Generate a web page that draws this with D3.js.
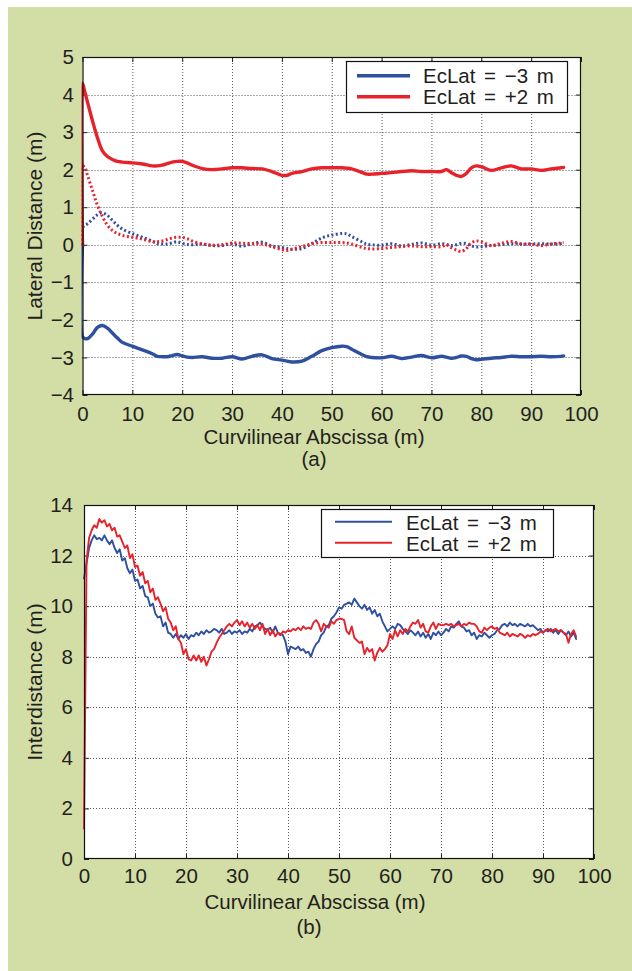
<!DOCTYPE html>
<html>
<head>
<meta charset="utf-8">
<script src="https://cdn.jsdelivr.net/npm/d3@7"></script>
<style>
  body { margin: 0; padding: 0; background: #ffffff; }
  svg { display: block; }
  text { font-family: "Liberation Sans", Arial, Helvetica, sans-serif; fill: #231f20; }
</style>
</head>
<body>
<svg id="fig" width="632" height="971"></svg>
<script>
// ---------------- DATA ----------------
// (a) Lateral distance vs curvilinear abscissa
const latX = [0, 0, 0.5, 1, 2, 3, 4, 5, 6, 7, 8, 10, 12, 14, 15, 16, 17, 18, 19, 20, 21, 22, 24, 26, 28, 30, 32, 34, 36, 38, 40, 41, 42, 44, 46, 48, 50, 52, 53, 54, 56, 57, 58, 60, 62, 64, 66, 68, 70, 72, 73, 74, 75, 76, 77, 78, 79, 80, 82, 84, 86, 88, 90, 92, 94, 96, 96.5];
const latBlueSolid = [0, -2.45, -2.5, -2.5, -2.38, -2.2, -2.15, -2.22, -2.35, -2.48, -2.6, -2.7, -2.8, -2.9, -2.97, -2.98, -2.98, -2.95, -2.92, -2.96, -2.99, -3.0, -2.98, -3.02, -3.02, -2.98, -3.04, -2.97, -2.93, -3.03, -3.07, -3.1, -3.12, -3.1, -2.97, -2.82, -2.74, -2.7, -2.71, -2.78, -2.92, -2.98, -3.0, -3.01, -2.97, -3.03, -2.99, -2.95, -3.01, -2.97, -2.99, -3.02, -3.0, -2.96, -2.97, -3.03, -3.06, -3.05, -3.02, -3.0, -2.97, -2.98, -2.98, -2.97, -2.98, -2.97, -2.96];
const latRedSolid = [0, 4.3, 4.05, 3.8, 3.3, 2.85, 2.5, 2.35, 2.27, 2.22, 2.2, 2.18, 2.15, 2.1, 2.1, 2.12, 2.16, 2.2, 2.22, 2.22, 2.18, 2.12, 2.03, 2.0, 2.02, 2.05, 2.05, 2.03, 2.02, 1.95, 1.85, 1.85, 1.9, 1.95, 2.02, 2.05, 2.05, 2.05, 2.04, 2.02, 1.93, 1.88, 1.88, 1.9, 1.92, 1.95, 1.97, 1.95, 1.95, 1.95, 2.0, 1.92, 1.85, 1.82, 1.9, 2.05, 2.1, 2.08, 1.98, 2.05, 2.1, 2.02, 2.02, 1.98, 2.02, 2.05, 2.06];
const latBlueDotted = [0, 0.45, 0.52, 0.56, 0.68, 0.8, 0.85, 0.78, 0.65, 0.52, 0.42, 0.3, 0.2, 0.1, 0.03, 0.02, 0.02, 0.05, 0.08, 0.04, 0.01, 0.0, 0.02, -0.02, -0.02, 0.02, -0.04, 0.03, 0.07, -0.03, -0.07, -0.1, -0.12, -0.1, 0.03, 0.18, 0.26, 0.3, 0.29, 0.22, 0.08, 0.02, 0.0, -0.01, 0.03, -0.03, 0.01, 0.05, -0.01, 0.03, 0.01, -0.02, 0.0, 0.04, 0.03, -0.03, -0.06, -0.05, -0.02, 0.0, 0.03, 0.02, 0.02, 0.03, 0.02, 0.03, 0.04];
const latRedDotted = [0, 2.1, 2.05, 1.85, 1.45, 1.05, 0.75, 0.52, 0.38, 0.3, 0.25, 0.2, 0.15, 0.08, 0.08, 0.1, 0.14, 0.18, 0.2, 0.2, 0.16, 0.1, 0.02, -0.01, 0.0, 0.05, 0.04, 0.03, 0.02, -0.05, -0.13, -0.15, -0.12, -0.05, 0.03, 0.06, 0.06, 0.06, 0.05, 0.02, -0.07, -0.1, -0.11, -0.1, -0.07, -0.05, -0.03, -0.05, -0.05, -0.05, 0.0, -0.08, -0.14, -0.18, -0.1, 0.05, 0.1, 0.08, -0.02, 0.04, 0.09, 0.02, 0.02, -0.02, 0.02, 0.05, 0.06];

// (b) Interdistance, sampled every 0.5 m from 0 m
const interStart = 0, interStep = 0.5;
const interBlue = [11.1, 11.7, 12.3, 12.6, 12.8, 12.65, 12.7, 12.6, 12.8, 12.6, 12.45, 12.6, 12.3, 12.1, 12.25, 11.8, 11.9, 11.5, 11.3, 11.45,
  11.0, 11.05, 10.7, 10.8, 10.4, 10.35, 10.0, 10.1, 9.7, 9.55, 9.6, 9.2, 9.35, 8.95, 8.9, 8.75, 8.9, 8.7, 8.85, 8.75,
  8.9, 8.7, 8.85, 8.8, 8.95, 8.85, 9.0, 8.9, 9.05, 8.95, 9.0, 9.1, 9.05, 8.95, 9.1, 8.9, 8.95, 9.05, 8.9, 9.0,
  8.95, 9.05, 8.9, 9.0, 8.95, 9.1, 9.0, 9.2, 9.25, 9.35, 9.2, 9.1, 9.05, 9.15, 8.95, 9.2, 8.95, 8.9, 8.85, 8.6,
  8.1, 8.4, 8.35, 8.3, 8.4, 8.25, 8.3, 8.15, 8.2, 8.0, 8.3, 8.5, 8.6, 8.85, 8.95, 9.2, 9.25, 9.5, 9.6, 9.75,
  9.95, 9.9, 10.05, 10.1, 10.15, 10.05, 10.3, 10.15, 10.0, 9.9, 10.05, 9.85, 9.95, 9.7, 9.85, 9.6, 9.7, 9.4, 9.2, 9.0,
  9.1, 9.2, 9.1, 9.3, 9.25, 9.1, 9.0, 8.9, 9.05, 8.95, 8.85, 9.0, 8.8, 8.95, 8.75, 8.9, 8.7, 8.95, 8.85, 9.0,
  8.85, 8.95, 9.1, 9.0, 9.2, 9.15, 9.3, 9.4, 9.2, 9.15, 9.0, 9.05, 8.85, 8.95, 8.7, 8.85, 8.8, 8.95, 8.85, 8.75,
  8.85, 8.9, 9.05, 9.1, 9.25, 9.3, 9.2, 9.35, 9.25, 9.3, 9.2, 9.3, 9.25, 9.2, 9.3, 9.2, 9.25, 9.15, 9.05, 9.1,
  8.95, 9.05, 9.0, 9.1, 8.95, 9.05, 8.9, 9.05, 8.95, 8.85, 9.0, 8.8, 8.95, 8.7];
const interRed = [1.2, 11.8, 12.7, 13.0, 13.2, 13.1, 13.45, 13.3, 13.4, 13.15, 13.25, 13.0, 13.1, 12.75, 12.8, 12.55, 12.3, 12.4, 11.9, 12.05,
  11.55, 11.6, 11.2, 11.35, 10.9, 11.0, 10.55, 10.7, 10.25, 10.35, 10.1, 9.8, 9.95, 9.5, 9.35, 9.05, 9.2, 8.7, 8.55, 8.1,
  8.3, 7.9, 7.85, 8.05, 7.85, 8.05, 7.8, 8.0, 7.65, 7.9, 8.2, 8.3, 8.55, 8.75, 8.9, 9.05, 9.2, 9.3, 9.2, 9.35,
  9.45, 9.25, 9.4, 9.2, 9.35, 9.15, 9.3, 9.1, 9.25, 9.05, 9.3, 8.9, 9.1, 8.85, 9.05, 8.8, 8.95, 8.85, 9.0, 8.95,
  9.05, 9.0, 9.1, 9.05, 9.15, 9.05, 9.2, 9.1, 9.15, 9.1, 9.35, 9.45, 9.3, 9.0, 9.3, 9.2, 9.15, 9.4, 9.3, 9.45,
  9.5, 9.5, 9.45, 9.0, 8.9, 9.2, 8.75, 8.65, 8.55, 8.6, 8.1, 8.35, 8.2, 8.3, 7.85, 8.15, 8.35, 8.2, 8.3, 8.45,
  8.9, 8.7, 9.05, 8.8, 9.05, 8.9, 9.1, 9.0, 9.2, 9.35, 9.3, 9.45, 9.15, 9.3, 9.0, 8.95, 9.2, 9.35, 9.1, 9.3,
  9.25, 9.25, 9.3, 9.25, 9.3, 9.2, 9.25, 9.3, 9.2, 9.3, 9.25, 9.35, 9.3, 9.3, 9.2, 9.0, 8.95, 9.15, 9.05, 9.15,
  9.2, 9.1, 9.15, 8.95, 8.9, 8.85, 8.95, 8.8, 8.9, 8.85, 8.8, 8.9, 8.85, 8.75, 8.85, 8.8, 8.9, 8.85, 8.9, 9.0,
  8.95, 9.05, 9.1, 9.0, 9.05, 9.1, 9.0, 9.05, 8.95, 8.9, 8.55, 8.9, 9.05, 8.8];

const xTicks = [0, 10, 20, 30, 40, 50, 60, 70, 80, 90, 100];
const latTicks = [-4, -3, -2, -1, 0, 1, 2, 3, 4, 5];
const interTicks = [0, 2, 4, 6, 8, 10, 12, 14];
const legendLabels = ["EcLat = \u22123 m", "EcLat = +2 m"];
const seriesColors = ["#2f4f9f", "#e8222a"];

// ---------------- DRAW ----------------
const svg = d3.select("#fig");
svg.append("rect").attr("x", 8).attr("y", 7).attr("width", 624).attr("height", 964).attr("fill", "#d3dda6");

function panel(cfg) {
  const g = svg.append("g");
  const x = d3.scaleLinear().domain([0, 100]).range([cfg.left, cfg.right]);
  const y = d3.scaleLinear().domain(cfg.yDomain).range([cfg.bottom, cfg.top]);
  const W = cfg.right - cfg.left, H = cfg.bottom - cfg.top;

  g.append("rect").attr("x", cfg.left).attr("y", cfg.top).attr("width", W).attr("height", H).attr("fill", "#ffffff");

  // grid
  const grid = g.append("g").attr("stroke", "#444").attr("stroke-width", 0.9).attr("stroke-dasharray", "1,2");
  grid.selectAll(".gx").data(xTicks.slice(1, -1)).join("line")
    .attr("x1", d => x(d) + 0.5).attr("x2", d => x(d) + 0.5).attr("y1", cfg.top).attr("y2", cfg.bottom);
  grid.selectAll(".gy").data(cfg.yTicks.slice(1, -1)).join("line")
    .attr("y1", d => Math.round(y(d)) + 0.5).attr("y2", d => Math.round(y(d)) + 0.5).attr("x1", cfg.left).attr("x2", cfg.right);

  // axes (inward ticks, MATLAB style)
  const fs = 20.5;
  const ax = g.append("g").attr("transform", `translate(0,${cfg.bottom})`)
    .call(d3.axisBottom(x).tickValues(xTicks).tickSizeInner(-5).tickSizeOuter(0).tickPadding(cfg.xPad));
  const ay = g.append("g").attr("transform", `translate(${cfg.left},0)`)
    .call(d3.axisLeft(y).tickValues(cfg.yTicks).tickSizeInner(-5).tickSizeOuter(0).tickPadding(cfg.yPad));
  const at = g.append("g").attr("transform", `translate(0,${cfg.top})`)
    .call(d3.axisTop(x).tickValues(xTicks).tickSizeInner(-5).tickSizeOuter(0).tickFormat(""));
  const ar = g.append("g").attr("transform", `translate(${cfg.right},0)`)
    .call(d3.axisRight(y).tickValues(cfg.yTicks).tickSizeInner(-5).tickSizeOuter(0).tickFormat(""));
  [ax, ay, at, ar].forEach(a => {
    a.select(".domain").remove();
    a.selectAll("line").attr("stroke", "#222");
    a.selectAll("text").attr("font-size", fs).attr("font-family", '"Liberation Sans", Arial, sans-serif').attr("fill", "#231f20");
  });

  // data
  const clipId = "clip" + cfg.id;
  svg.append("clipPath").attr("id", clipId).append("rect")
    .attr("x", cfg.left - 1).attr("y", cfg.top).attr("width", W + 1).attr("height", H);
  const data = g.append("g").attr("clip-path", `url(#${clipId})`);
  cfg.series.forEach(s => {
    const line = d3.line().x(d => x(d[0])).y(d => y(d[1])).curve(s.curve || d3.curveLinear);
    data.append("path").datum(s.pts).attr("d", line)
      .attr("fill", "none").attr("stroke", s.color).attr("stroke-width", s.width)
      .attr("stroke-linejoin", "round").attr("stroke-linecap", s.dash ? "butt" : "round")
      .attr("stroke-dasharray", s.dash || null);
  });

  // frame
  g.append("rect").attr("x", cfg.left + 0.5).attr("y", cfg.top + 0.5).attr("width", W - 1).attr("height", H - 1)
    .attr("fill", "none").attr("stroke", "#111").attr("stroke-width", 1.2);

  // legend
  const L = cfg.legend;
  g.append("rect").attr("x", L.x + 0.5).attr("y", L.y + 0.5).attr("width", L.w).attr("height", L.h)
    .attr("fill", "#ffffff").attr("stroke", "#111").attr("stroke-width", 1.2);
  legendLabels.forEach((lab, i) => {
    g.append("line").attr("x1", L.lx1).attr("x2", L.lx2).attr("y1", L.ly[i]).attr("y2", L.ly[i])
      .attr("stroke", seriesColors[i]).attr("stroke-width", L.lw);
    g.append("text").attr("x", L.tx).attr("y", L.tb[i]).attr("font-size", fs)
      .attr("word-spacing", "3px").text(lab);
  });

  // axis labels
  g.append("text").attr("x", cfg.xlabX).attr("y", cfg.xlabY).attr("text-anchor", "middle").attr("font-size", fs)
    .text("Curvilinear Abscissa (m)");
  g.append("text").attr("x", cfg.capX).attr("y", cfg.capY).attr("text-anchor", "middle").attr("font-size", fs)
    .text(cfg.caption);
  g.append("text").attr("transform", `translate(42,${(cfg.top + cfg.bottom) / 2}) rotate(-90)`)
    .attr("text-anchor", "middle").attr("font-size", 21).text(cfg.ylabel);
}

const smooth = d3.curveCatmullRom.alpha(0.5);
const latPts = vals => latX.map((v, i) => [v, vals[i]]);
const interPts = vals => vals.map((v, i) => [interStart + i * interStep, v]);

panel({
  id: "a", left: 82.5, right: 581, top: 57, bottom: 395, yDomain: [-4, 5], yTicks: latTicks,
  xPad: 11.2, yPad: 8.5,
  series: [
    { pts: latPts(latBlueDotted), color: seriesColors[0], width: 3, dash: "2,2.4", curve: smooth },
    { pts: latPts(latRedDotted), color: seriesColors[1], width: 3, dash: "2,2.4", curve: smooth },
    { pts: latPts(latBlueSolid), color: seriesColors[0], width: 3.4, curve: smooth },
    { pts: latPts(latRedSolid), color: seriesColors[1], width: 3.4, curve: smooth }
  ],
  legend: { x: 346, y: 61, w: 221, h: 51, lx1: 357, lx2: 410, ly: [75.7, 96.7], lw: 3.4, tx: 423, tb: [83.3, 104] },
  xlabX: 314, xlabY: 444, capX: 314, capY: 466, caption: "(a)", ylabel: "Lateral Distance (m)"
});

panel({
  id: "b", left: 84, right: 594, top: 505, bottom: 859, yDomain: [0, 14], yTicks: interTicks,
  xPad: 9.6, yPad: 11,
  series: [
    { pts: interPts(interBlue), color: seriesColors[0], width: 1.9 },
    { pts: interPts(interRed), color: seriesColors[1], width: 1.9 }
  ],
  legend: { x: 321, y: 509, w: 232, h: 48, lx1: 335, lx2: 392, ly: [521.7, 542.7], lw: 2, tx: 406, tb: [530, 551] },
  xlabX: 315, xlabY: 909, capX: 309, capY: 934, caption: "(b)", ylabel: "Interdistance (m)"
});
</script>
</body>
</html>
